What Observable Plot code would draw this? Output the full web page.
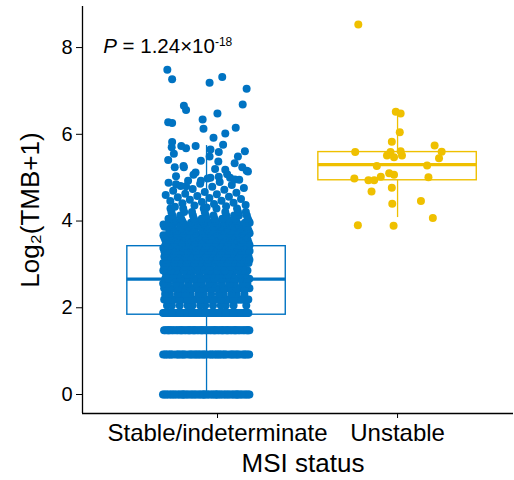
<!DOCTYPE html>
<html><head><meta charset="utf-8">
<script src="https://cdn.jsdelivr.net/npm/d3@7"></script>
<script src="https://cdn.jsdelivr.net/npm/@observablehq/plot@0.6"></script>
<style>body{margin:0;background:#fff}</style>
</head><body><div id="chart"></div>
<script>
// ---- labels ----
const groups = ["Stable/indeterminate", "Unstable"];
const xLabel = "MSI status";
const yLabel = "Log\u2082(TMB+1)";
const yTicks = [0, 2, 4, 6, 8];
const pLabel = "P";
const pValue = " = 1.24\u00d710";
const pExponent = "-18";

// ---- box statistics ----
const q1 = [1.84, 4.94];
const medians = [2.66, 5.30];
const q3 = [3.42, 5.59];
const whiskerLo = [0, 4.08];
const whiskerHi = [5.74, 6.47];

// ---- Stable/indeterminate points ----
const stableBandValues = [0, 0.92, 1.48, 1.88, 2.05, 2.19, 2.32, 2.45, 2.56, 2.67, 2.77, 2.86, 2.95, 3.03, 3.11, 3.18, 3.25, 3.31, 3.38, 3.44, 3.50, 3.56, 3.62, 3.67, 3.72, 3.77, 3.82, 3.87, 3.92, 3.96, 4.0, 4.05, 4.13, 4.21, 4.29];
const stableBandCounts = [60, 50, 65, 62, 12, 48, 14, 44, 14, 42, 14, 36, 13, 32, 13, 30, 12, 28, 12, 26, 12, 22, 12, 20, 11, 18, 10, 16, 9, 14, 8, 11, 9, 7, 5];
const stableMidValues = [4.31, 4.33, 4.34, 4.36, 4.37, 4.39, 4.41, 4.42, 4.44, 4.46, 4.47, 4.49, 4.51, 4.53, 4.55, 4.56, 4.58, 4.6, 4.62, 4.63, 4.65, 4.67, 4.7, 4.72, 4.74, 4.76, 4.79, 4.81, 4.83, 4.86, 4.88, 4.9, 4.93, 4.95, 4.98, 5.03, 5.08, 5.12, 5.16, 5.2, 5.27, 5.33];
const stableHighValues = [7.49, 7.27, 7.32, 7.19, 7.05, 6.69, 6.66, 6.56, 6.48, 6.28, 6.26, 6.34, 6.13, 6.15, 6.02, 5.92, 5.76, 5.61, 5.82, 5.70, 5.55, 5.73, 5.68, 5.73, 5.65, 5.49, 5.59, 5.41, 5.39, 5.49, 5.37, 5.14, 5.24, 5.24, 5.24, 5.18, 5.00, 5.02, 5.07, 4.85, 4.80, 4.93, 5.00, 4.96];
const stableHighJitter = [-0.90, -0.79, 0.36, 0.07, 0.92, 0.83, -0.52, -0.47, 0.25, -0.88, -0.79, -0.09, -0.07, 0.67, 0.43, 0.16, 0.38, 0.88, -0.79, -0.80, -0.75, -0.58, -0.47, -0.25, 0.09, 0.07, 0.28, -0.88, -0.13, 0.72, 0.27, 0.95, 0.82, -0.73, -0.52, 0.43, 0.09, 0.28, -0.30, -0.70, -0.47, -0.13, 0.54, 0.65];

// ---- Unstable points ----
const unstableValues = [6.52, 6.48, 6.05, 5.83, 5.74, 5.60, 5.59, 5.59, 5.51, 5.47, 5.61, 5.51, 5.45, 5.27, 5.28, 5.10, 5.07, 5.02, 5.01, 4.98, 4.94, 4.94, 4.77, 4.68, 4.40, 4.46, 4.07, 3.90, 3.89, 8.53];
const unstableJitter = [-0.04, 0.07, 0.05, -0.13, 0.84, 1.0, -0.96, -0.16, -0.24, -0.08, 0.07, 0.10, 0.94, -0.47, 0.67, -0.19, -0.08, -0.38, 0.70, -0.98, -0.66, -0.53, -0.13, -0.59, -0.12, 0.53, 0.80, -0.90, -0.09, -0.89];

// ---- styles ----
const colors = ["#0073C2", "#EFC000"];
const groupOffset = [-0.061, 0];   // horizontal shift of each group's box/points
const jitterHalf = [0.242, 0.245];
const boxHalf = 0.44;
const font = "'Liberation Sans', Arial, Helvetica, sans-serif";

// ---- build tables ----
const frac = v => v - Math.floor(v);
const points = [];
stableBandValues.forEach((v, k) => {
  for (let i = 0; i < stableBandCounts[k]; i++) {
    points.push({g: 0, value: v, jitter: frac(i * 0.618034 + k * 0.371) * 2 - 1});
  }
});
stableMidValues.forEach((v, i) => points.push({g: 0, value: v, jitter: frac(i * 0.618034 + 0.5) * 1.9 - 0.95}));
stableHighValues.forEach((v, i) => points.push({g: 0, value: v, jitter: stableHighJitter[i]}));
unstableValues.forEach((v, i) => points.push({g: 1, value: v, jitter: unstableJitter[i]}));

const boxes = groups.map((name, g) => ({
  g, name, q1: q1[g], median: medians[g], q3: q3[g], lo: whiskerLo[g], hi: whiskerHi[g]
}));
const center = g => g + 1 + groupOffset[g];

const xDomain = [0.25, 2.644];
const yDomain = [-0.438, 8.947];

const chart = Plot.plot({
  width: 514,
  height: 480,
  marginLeft: 82,
  marginRight: 1,
  marginTop: 6,
  marginBottom: 67,
  style: {fontFamily: font, fontSize: "20px", color: "black", background: "white"},
  x: {type: "linear", domain: xDomain},
  y: {domain: yDomain},
  marks: [
    Plot.rect(boxes, {x1: d => center(d.g) - boxHalf, x2: d => center(d.g) + boxHalf, y1: "q1", y2: "q3",
      fill: "none", stroke: d => colors[d.g], strokeWidth: 1.4}),
    Plot.ruleX(boxes, {x: d => center(d.g), y1: "lo", y2: "q1", stroke: d => colors[d.g], strokeWidth: 1.3}),
    Plot.ruleX(boxes, {x: d => center(d.g), y1: "q3", y2: "hi", stroke: d => colors[d.g], strokeWidth: 1.3}),
    Plot.ruleY(boxes, {y: "median", x1: d => center(d.g) - boxHalf, x2: d => center(d.g) + boxHalf,
      stroke: d => colors[d.g], strokeWidth: 3.2}),
    Plot.dot(points, {x: d => center(d.g) + d.jitter * jitterHalf[d.g], y: "value", r: 4,
      fill: d => colors[d.g]}),
    Plot.ruleX([xDomain[0]], {stroke: "black", strokeWidth: 1.3}),
    Plot.ruleY([yDomain[0]], {stroke: "black", strokeWidth: 1.3}),
    Plot.axisY({ticks: yTicks, tickSize: 6, tickPadding: 4, fontSize: 20, label: null, tickFormat: d => String(d)}),
    Plot.axisX({ticks: [1, 2], tickFormat: d => groups[d - 1], tickSize: 5, tickPadding: 5, fontSize: 24, label: null}),
    Plot.text([xLabel], {text: d => d, frameAnchor: "bottom", lineAnchor: "bottom", dy: 58, dx: 5, fontSize: 26}),
    Plot.text([yLabel], {text: d => d, frameAnchor: "left", textAnchor: "middle", rotate: -90, lineAnchor: "bottom", dx: -43.5, fontSize: 26}),
    Plot.text([pLabel + pValue + pExponent], {text: d => d, x: () => 0.365, y: () => 7.88,
      textAnchor: "start", lineAnchor: "bottom", fontSize: 20.5})
  ]
});
document.getElementById("chart").appendChild(chart);

// rich formatting of the P-value annotation
d3.select(chart).selectAll("text").each(function () {
  if (this.textContent === pLabel + pValue + pExponent) {
    const t = d3.select(this);
    t.text(null);
    t.append("tspan").attr("font-style", "italic").text(pLabel);
    t.append("tspan").text(pValue);
    t.append("tspan").attr("font-size", 12).attr("dy", -6.7).text(pExponent);
  }
});
</script>
</body></html>
